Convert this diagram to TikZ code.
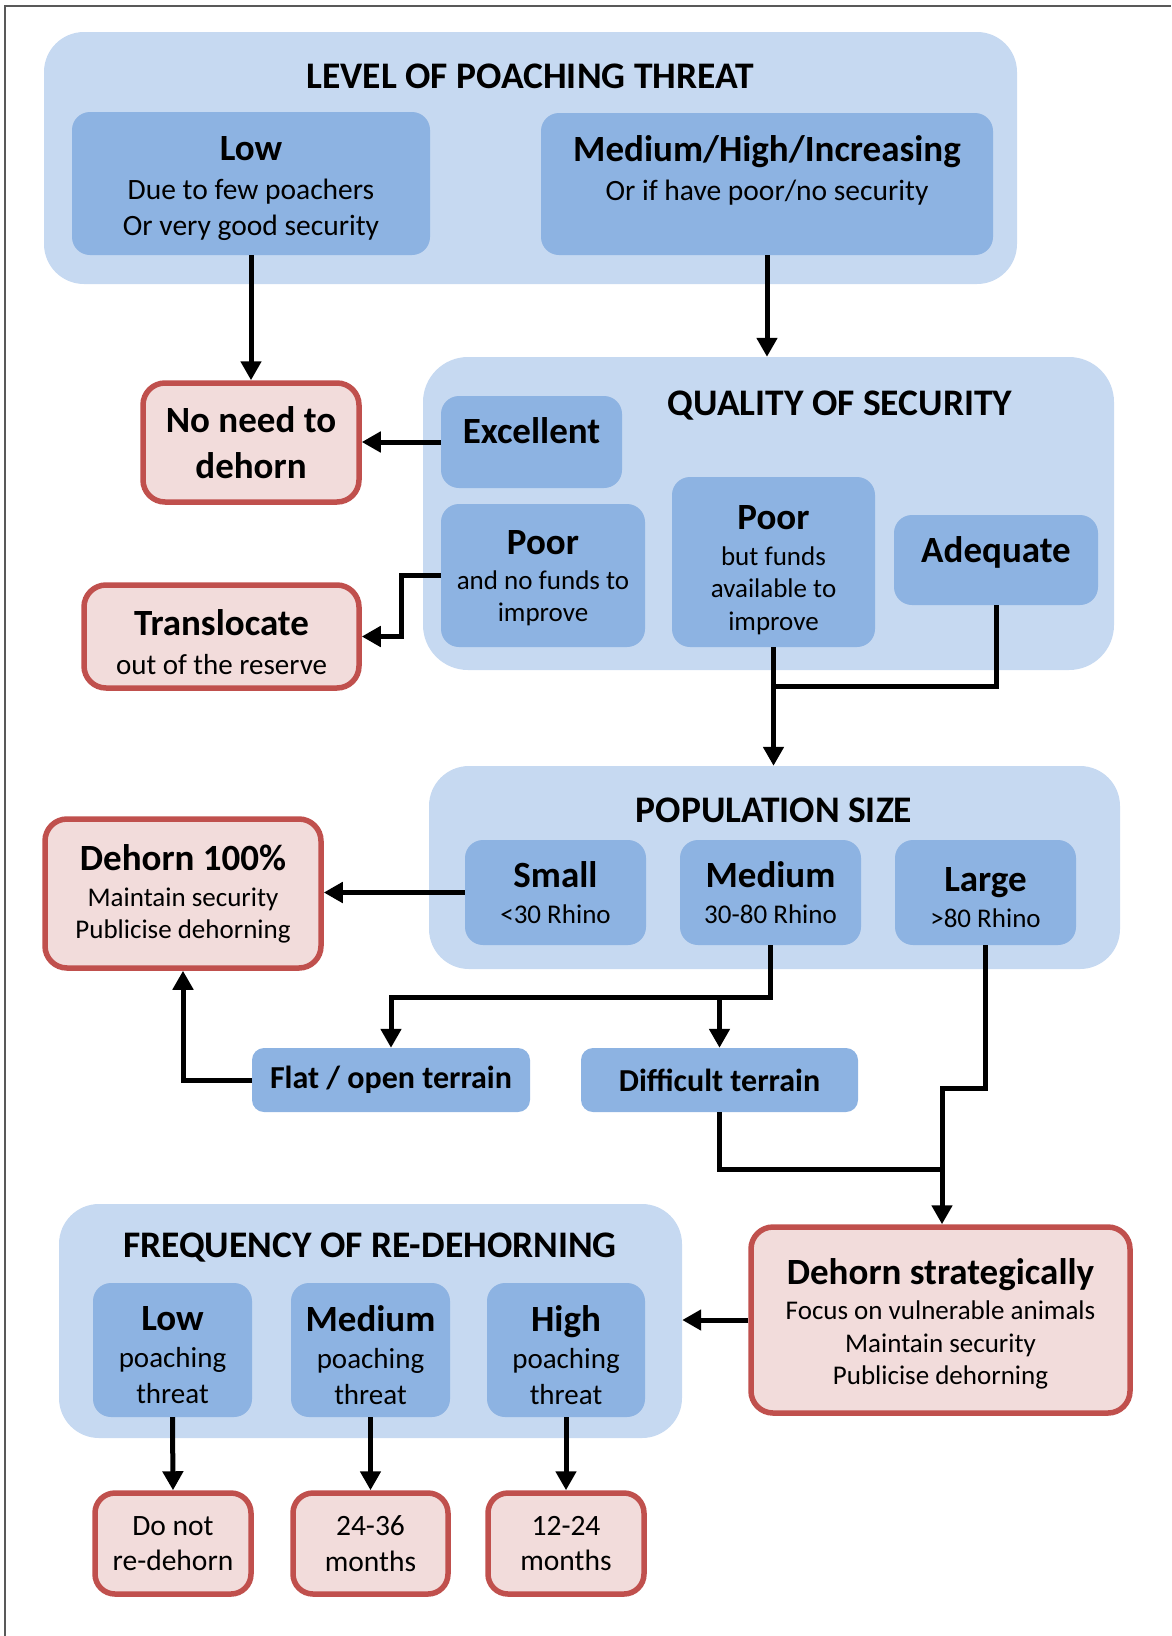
\documentclass[tikz,border=0pt]{standalone}
\usepackage{fontspec}
\setmainfont{Carlito}
\usetikzlibrary{arrows.meta, positioning, calc}
\definecolor{paleBlue}{HTML}{C6D9F1}
\definecolor{midBlue}{HTML}{8DB3E2}
\definecolor{paleRed}{HTML}{F2DCDB}
\definecolor{darkRed}{HTML}{C0504D}
\definecolor{frameGray}{HTML}{595959}
\tikzset{
    panel/.style={fill=paleBlue, draw=none, rounded corners=40pt, inner sep=0pt},
    option/.style={fill=midBlue, draw=none, rounded corners=18pt, align=center, inner sep=0pt},
    outcome/.style={fill=paleRed, draw=darkRed, line width=5.5pt, rounded corners=22pt, align=center, inner sep=0pt},
    heading/.style={font=\fontsize{37.5}{42}\selectfont\bfseries},
    flow/.style={line width=5pt, -{Triangle[length=19pt,width=20pt]}},
    link/.style={line width=5pt}
}
\newcommand{\Head}[1]{{\fontsize{37}{37}\selectfont\bfseries #1}}

\begin{document}
\begin{tikzpicture}[x=1pt, y=-1pt]
    \useasboundingbox (0,0) rectangle (1171,1636);
    \draw[frameGray, line width=2pt] (5,1636) -- (5,6) -- (1171,6);

    % Level of poaching threat
    \node[panel, minimum width=973pt, minimum height=252pt] (threat) at (530.5,158) {};
    \node[heading] (threatHead) at (530,76) {LEVEL OF POACHING THREAT};
    \node[option, minimum width=358pt, minimum height=143pt] (low) at (251,183.5) {};
    \node[align=center, font=\fontsize{29.5}{36}\selectfont] (lowText) at (251,189) {\Head{Low}\\[3pt]Due to few poachers\\Or very good security};
    \node[option, minimum width=452pt, minimum height=142pt] (medHigh) at (767,184) {};
    \node[align=center, font=\fontsize{29.5}{36}\selectfont] (medHighText) at (767,170) {\Head{Medium/High/Increasing}\\[3pt]Or if have poor/no security};

    % Quality of security
    \node[panel, rounded corners=45pt, minimum width=691pt, minimum height=313pt] (quality) at (768.5,513.5) {};
    \node[heading] (qualityHead) at (840,406) {QUALITY OF SECURITY};
    \node[option, minimum width=181pt, minimum height=92pt] (excellent) at (531.5,442) {};
    \node (excellentText) at (531.5,431) {\Head{Excellent}};
    \node[option, minimum width=204pt, minimum height=143pt] (poorNo) at (543,575.5) {};
    \node[align=center, font=\fontsize{27}{32}\selectfont] (poorNoText) at (543,578.5) {\Head{Poor}\\[3pt]and no funds to\\improve};
    \node[option, minimum width=203pt, minimum height=170pt] (poorFunds) at (773.5,562) {};
    \node[align=center, font=\fontsize{27}{32.5}\selectfont] (poorFundsText) at (773.5,570) {\Head{Poor}\\[3pt]but funds\\available to\\improve};
    \node[option, minimum width=204pt, minimum height=90pt] (adequate) at (996,560) {};
    \node (adequateText) at (996,552) {\Head{Adequate}};

    \node[outcome, minimum width=216pt, minimum height=119pt, font=\fontsize{37}{46}\selectfont\bfseries] (noNeed) at (251,442.5) {No need to\\dehorn};
    \node[outcome, minimum width=275pt, minimum height=103pt] (transloc) at (221.5,636.5) {};
    \node[align=center, font=\fontsize{29}{36}\selectfont] (translocText) at (221.5,642) {\Head{Translocate}\\[3pt]out of the reserve};

    % Population size
    \node[panel, minimum width=691pt, minimum height=203pt] (popSize) at (774.5,867.5) {};
    \node[heading] (popHead) at (774,810) {POPULATION SIZE};
    \node[option, minimum width=181pt, minimum height=105pt, font=\fontsize{27}{35}\selectfont] (small) at (555.5,892.5) {\Head{Small}\\[1pt]<30 Rhino};
    \node[option, minimum width=181pt, minimum height=105pt, font=\fontsize{27}{35}\selectfont] (medium) at (770.5,892.5) {\Head{Medium}\\[1pt]30-80 Rhino};
    \node[option, minimum width=181pt, minimum height=105pt] (large) at (985.5,892.5) {};
    \node[align=center, font=\fontsize{27}{35}\selectfont] (largeText) at (985.5,897.5) {\Head{Large}\\[1pt]>80 Rhino};

    \node[outcome, minimum width=276pt, minimum height=149pt, font=\fontsize{27}{32}\selectfont] (dehornAll) at (183,893.5) {\Head{Dehorn 100\%}\\[4pt]Maintain security\\Publicise dehorning};

    % Terrain
    \node[option, rounded corners=12pt, minimum width=278pt, minimum height=64pt, font=\fontsize{32}{36}\selectfont\bfseries] (flat) at (391,1080) {Flat / open terrain};
    \node[option, rounded corners=12pt, minimum width=277pt, minimum height=64pt, font=\fontsize{32}{36}\selectfont\bfseries] (difficult) at (719.5,1080) {Difficult terrain};

    \node[outcome, minimum width=379pt, minimum height=186pt] (strategic) at (940.5,1320) {};
    \node[align=center, font=\fontsize{27}{32.5}\selectfont] (strategicText) at (940.5,1324) {\Head{Dehorn strategically}\\[3pt]Focus on vulnerable animals\\Maintain security\\Publicise dehorning};

    % Frequency of re-dehorning
    \node[panel, minimum width=623pt, minimum height=234pt] (freq) at (370.5,1321) {};
    \node[heading] (freqHead) at (370,1248) {FREQUENCY OF RE-DEHORNING};
    \node[option, minimum width=159pt, minimum height=134pt] (fLow) at (172.5,1350) {};
    \node[option, minimum width=159pt, minimum height=134pt] (fMed) at (370.5,1350) {};
    \node[option, minimum width=158pt, minimum height=134pt] (fHigh) at (566,1350) {};
    \foreach \nm/\x/\lvl in {fLowText/172.5/Low, fMedText/370.5/Medium, fHighText/566/High}
        \node[align=center, font=\fontsize{29}{35.5}\selectfont] (\nm) at (\x,1355) {\Head{\lvl}\\[2pt]poaching\\threat};

    \node[outcome, minimum width=156pt, minimum height=101pt, rounded corners=20pt, font=\fontsize{29.5}{35.5}\selectfont] (rLow) at (173,1543.5) {Do not\\re-dehorn};
    \node[outcome, minimum width=155pt, minimum height=101pt, rounded corners=20pt, font=\fontsize{29.5}{35.5}\selectfont] (rMed) at (370.5,1543.5) {24-36\\months};
    \node[outcome, minimum width=156pt, minimum height=101pt, rounded corners=20pt, font=\fontsize{29.5}{35.5}\selectfont] (rHigh) at (566,1543.5) {12-24\\months};

    % connectors
    \coordinate (qJoin) at (773.5,686);
    \coordinate (mJoin) at (770.5,997);
    \coordinate (lJoin) at (942,1088);
    \draw[flow] (low.south) -- (noNeed.north);
    \draw[flow] (medHigh.south) -- (medHigh.south |- quality.north);
    \draw[flow] (excellent.west) -- (excellent.west -| noNeed.east);
    \draw[flow] (poorNo.west) -- ++(-39,0) |- (transloc.east);
    \draw[flow] (poorFunds.south) -- (poorFunds.south |- popSize.north);
    \draw[link] (adequate.south) |- (qJoin);
    \draw[flow] (small.west) -- (small.west -| dehornAll.east);
    \draw[flow] (medium.south) -- (mJoin) -| (flat.north);
    \draw[flow] (difficult.north |- mJoin) -- (difficult.north);
    \draw[flow] (flat.west) -| (dehornAll.south);
    \draw[flow] (large.south) |- (lJoin) -- (lJoin |- strategic.north);
    \draw[link] (difficult.south) |- (lJoin |- 0,1169);
    \draw[flow] (strategic.west) -- (strategic.west -| freq.east);
    \draw[flow] (fLow.south) -- (rLow.north);
    \draw[flow] (fMed.south) -- (rMed.north);
    \draw[flow] (fHigh.south) -- (rHigh.north);
\end{tikzpicture}
\end{document}
